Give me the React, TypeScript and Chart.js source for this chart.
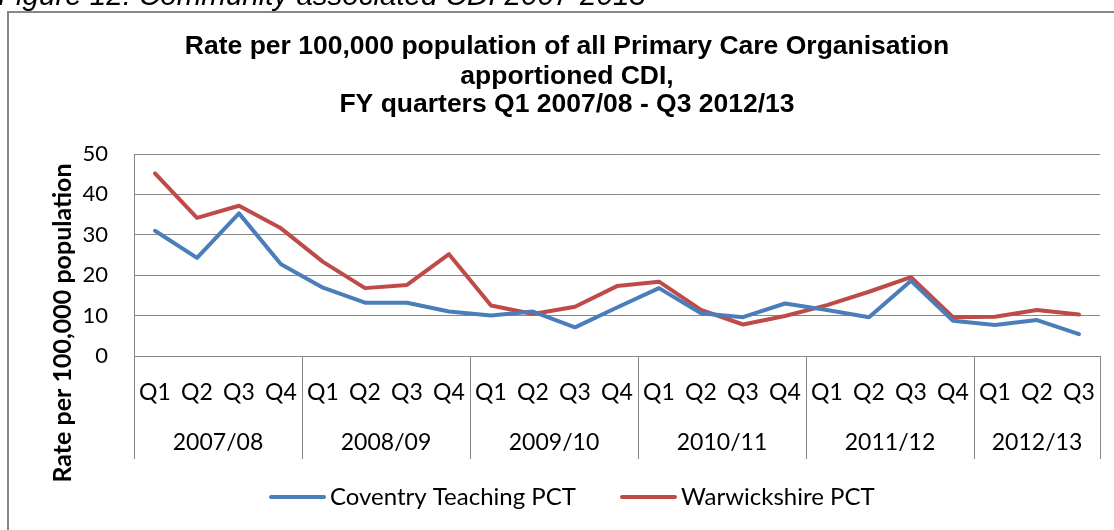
import React, { useEffect, useRef } from "react";
import { Chart, registerables } from "chart.js";

Chart.register(...registerables);

const quarters = [
  "Q1", "Q2", "Q3", "Q4",
  "Q1", "Q2", "Q3", "Q4",
  "Q1", "Q2", "Q3", "Q4",
  "Q1", "Q2", "Q3", "Q4",
  "Q1", "Q2", "Q3", "Q4",
  "Q1", "Q2", "Q3",
];
const years = ["2007/08", "2008/09", "2009/10", "2010/11", "2011/12", "2012/13"];
const quartersPerYear = [4, 4, 4, 4, 4, 3];

const coventry = [
  31.0, 24.3, 35.3, 22.7,
  16.9, 13.2, 13.2, 11.0,
  10.0, 11.0, 7.1, 12.0,
  16.8, 10.6, 9.6, 13.0,
  11.4, 9.6, 18.6, 8.7,
  7.7, 8.9, 5.4,
];
const warwickshire = [
  45.2, 34.2, 37.2, 31.6,
  23.3, 16.8, 17.6, 25.2,
  12.5, 10.4, 12.2, 17.3,
  18.4, 11.4, 7.8, 9.9,
  12.6, 15.9, 19.5, 9.6,
  9.7, 11.4, 10.3,
];

const seriesNames = ["Coventry Teaching PCT", "Warwickshire PCT"];
const titleLines = [
  "Rate per 100,000 population of all Primary Care Organisation",
  "apportioned CDI,",
  "FY quarters Q1 2007/08 - Q3 2012/13",
];
const yTitle = "Rate per 100,000 population";
const caption = "Figure 12: Community associated CDI 2007-2013";

const BLUE = "#4A7EBB";
const RED = "#BE4B48";
const GRID = "#878787";
const BODY = "'Lato', 'Noto Sans', sans-serif";
const ARIAL = "'Liberation Sans', Arial, sans-serif";

export default function App() {
  const ref = useRef<HTMLCanvasElement | null>(null);

  useEffect(() => {
    document.body.style.margin = "0";
    const canvas = ref.current;
    if (!canvas) return;

    const decor = {
      id: "decor",
      beforeDraw(chart: any) {
        const ctx = chart.ctx;
        ctx.save();
        ctx.fillStyle = "#fff";
        ctx.fillRect(0, 0, chart.width, chart.height);
        // caption (clipped at top)
        ctx.fillStyle = "#000";
        ctx.font = `italic 29.5px ${ARIAL}`;
        ctx.textAlign = "left";
        ctx.textBaseline = "alphabetic";
        ctx.fillText(caption, -2, 5);
        // frame
        ctx.strokeStyle = GRID;
        ctx.lineWidth = 2;
        ctx.strokeRect(8, 12, 1120, 600);
        ctx.restore();
      },
      afterDraw(chart: any) {
        const ctx = chart.ctx;
        const xs = chart.scales.x;
        const area = chart.chartArea;
        ctx.save();
        // title
        ctx.fillStyle = "#000";
        ctx.font = `bold 26.5px ${ARIAL}`;
        ctx.textAlign = "center";
        ctx.textBaseline = "middle";
        const ty = [47, 77, 105];
        titleLines.forEach((t, i) => ctx.fillText(t, 567, ty[i]));
        // y title
        ctx.save();
        ctx.translate(63, 323);
        ctx.rotate(-Math.PI / 2);
        ctx.font = `bold 25px ${BODY}`;
        ctx.fillText(yTitle, 0, 0);
        ctx.restore();
        // quarter labels
        ctx.font = `23px ${BODY}`;
        quarters.forEach((q, i) => {
          ctx.fillText(q, xs.getPixelForValue(i), 393);
        });
        // year labels and separators
        const half = (xs.getPixelForValue(1) - xs.getPixelForValue(0)) / 2;
        let idx = 0;
        ctx.strokeStyle = GRID;
        ctx.lineWidth = 1;
        const sep = (x: number) => {
          ctx.beginPath();
          ctx.moveTo(Math.round(x) + 0.5, area.bottom);
          ctx.lineTo(Math.round(x) + 0.5, 459);
          ctx.stroke();
        };
        sep(xs.getPixelForValue(0) - half);
        years.forEach((y, g) => {
          const n = quartersPerYear[g];
          const x0 = xs.getPixelForValue(idx) - half;
          const x1 = xs.getPixelForValue(idx + n - 1) + half;
          ctx.fillText(y, (x0 + x1) / 2, 443);
          sep(x1);
          idx += n;
        });
        // legend
        const ly = 497;
        const items = [
          { x: 271, color: BLUE, label: seriesNames[0] },
          { x: 622, color: RED, label: seriesNames[1] },
        ];
        ctx.textAlign = "left";
        ctx.font = `24px ${BODY}`;
        items.forEach((it) => {
          ctx.strokeStyle = it.color;
          ctx.lineWidth = 4;
          ctx.lineCap = "round";
          ctx.beginPath();
          ctx.moveTo(it.x, ly);
          ctx.lineTo(it.x + 53, ly);
          ctx.stroke();
          ctx.fillText(it.label, it.x + 59, ly);
        });
        ctx.restore();
      },
    };

    const chart = new Chart(canvas, {
      type: "line",
      data: {
        labels: quarters.map((q, i) => `${q}-${i}`),
        datasets: [
          {
            label: seriesNames[0],
            data: coventry,
            borderColor: BLUE,
            backgroundColor: BLUE,
            borderWidth: 4,
            pointRadius: 0,
            tension: 0,
            borderCapStyle: "round",
            borderJoinStyle: "round",
          },
          {
            label: seriesNames[1],
            data: warwickshire,
            borderColor: RED,
            backgroundColor: RED,
            borderWidth: 4,
            pointRadius: 0,
            tension: 0,
            borderCapStyle: "round",
            borderJoinStyle: "round",
          },
        ],
      },
      options: {
        responsive: false,
        animation: false,
        devicePixelRatio: 1,
        layout: { padding: { left: 74, right: 14, top: 154, bottom: 174 } },
        plugins: {
          legend: { display: false },
          title: { display: false },
          tooltip: { enabled: false },
        },
        scales: {
          x: {
            type: "category",
            offset: true,
            ticks: { display: false },
            grid: { display: false, drawTicks: false },
            border: { display: true, color: GRID, width: 1 },
            afterFit(scale: any) {
              scale.height = 0;
            },
          },
          y: {
            min: 0,
            max: 50,
            ticks: {
              stepSize: 10,
              padding: 26,
              color: "#000",
              font: { family: BODY, size: 22 },
            },
            grid: { color: GRID, lineWidth: 1, drawTicks: false },
            border: { display: true, color: GRID, width: 1 },
            afterFit(scale: any) {
              scale.width = 60;
            },
          },
        },
      },
      plugins: [decor],
    });

    return () => chart.destroy();
  }, []);

  return (
    <div style={{ position: "absolute", left: 0, top: 0, width: 1114, height: 530 }}>
      <canvas ref={ref} width={1114} height={530} style={{ display: "block" }} />
    </div>
  );
}
